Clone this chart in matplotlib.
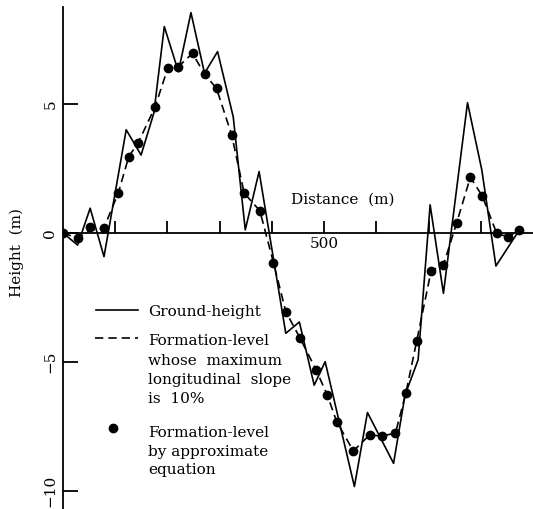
import matplotlib.pyplot as plt
from matplotlib.lines import Line2D

plt.rcParams['font.family'] = ['DejaVu Serif']

# ground profile (m)
ground_x = [0, 28, 52, 78.5, 121, 149.5, 174, 194, 221, 245, 271, 296, 326, 349, 375.5,
            426.6, 452.6, 481, 502, 558, 583, 633, 655, 680, 703, 728.5, 774.6, 802, 829, 874]
ground_h = [0, -0.47, 0.96, -0.92, 4.0, 3.02, 4.65, 8.0, 6.25, 8.54, 6.19, 7.03, 4.5, 0.12, 2.38,
            -3.89, -3.45, -5.9, -4.99, -9.83, -6.96, -8.93, -6.28, -4.92, 1.09, -2.34, 5.05, 2.44, -1.28, 0.12]

# formation-level, max slope 10% (dashed)
formation_x = [0, 28, 52, 78.5, 106, 126, 144, 176, 200.5, 221, 248, 271, 294, 323, 347, 377,
               403, 426.6, 454, 484.7, 506, 524, 556, 587, 611, 636.6, 656.5, 677.5, 705, 728.5,
               754, 780, 803, 831, 853, 874]
formation_h = [0, -0.2, 0.1, 0.2, 1.56, 2.96, 3.5, 4.87, 6.38, 6.45, 6.96, 6.16, 5.6, 3.8, 1.54, 0.86,
               -1.15, -3.05, -4.08, -5.31, -6.28, -7.31, -8.45, -7.83, -7.87, -7.76, -6.21, -4.17,
               -1.46, -1.24, 0.4, 2.16, 1.43, -0.04, -0.14, 0.12]

# formation-level by approximate equation (dots)
approx_x = [0, 28, 52, 78.5, 106, 126, 144, 176, 200.5, 221, 248, 271, 294, 323, 347, 377,
            403, 426.6, 454, 484.7, 506, 524, 556, 587, 611, 636.6, 656.5, 677.5, 705, 728.5,
            754, 780, 803, 831, 853, 874]
approx_h = [0, -0.2, 0.25, 0.2, 1.56, 2.96, 3.5, 4.87, 6.38, 6.45, 6.96, 6.16, 5.6, 3.8, 1.54, 0.86,
            -1.15, -3.05, -4.08, -5.31, -6.28, -7.31, -8.45, -7.83, -7.87, -7.76, -6.21, -4.17,
            -1.46, -1.24, 0.4, 2.16, 1.43, -0.01, -0.14, 0.12]

x_ticks = [100, 200, 300, 400, 500, 600, 700, 800]
x_tick_labels = ['', '', '', '', '500', '', '', '']
y_ticks = [-10, -5, 0, 5]
y_tick_labels = ['\u221210', '\u22125', '0', '5']

W, H = 533, 509
fig = plt.figure(figsize=(W / 100, H / 100), dpi=100)
ax = fig.add_axes([63 / W, 0, 1 - 63 / W, 1])
ax.set_xlim(0, 900)
ax.set_ylim(-10.70, 9.03)

ax.plot(ground_x, ground_h, color='black', lw=1.2)
ax.plot(formation_x, formation_h, color='black', lw=1.2, dashes=(5, 3))
ax.plot(approx_x, approx_h, 'o', color='black', ms=6)

for s in ['top', 'right']:
    ax.spines[s].set_visible(False)
ax.spines['bottom'].set_position(('data', 0))
ax.spines['left'].set_bounds(-10.7, 8.76)
for s in ['bottom', 'left']:
    ax.spines[s].set_linewidth(1.3)

ax.set_xticks(x_ticks)
ax.set_xticklabels(x_tick_labels)
ax.set_yticks(y_ticks)
ax.set_yticklabels(y_tick_labels)
ax.tick_params(axis='x', direction='in', length=9, width=1.3, pad=3, labelsize=11)
ax.tick_params(axis='y', direction='in', length=11, width=1.3, pad=4, labelsize=11,
               labelrotation=90)
for lab in ax.get_yticklabels():
    lab.set_va('center')

# axis titles
fig.text(291 / W, 1 - 204 / H, 'Distance  (m)', fontsize=11, ha='left', va='baseline')
fig.text(17 / W, 1 - 253 / H, 'Height  (m)', fontsize=11, rotation=90, ha='center', va='center')

# hand-made legend
def fy(py):
    return 1 - py / H

fig.add_artist(Line2D([96 / W, 138 / W], [fy(310), fy(310)], color='black', lw=1.2))
fig.add_artist(Line2D([95 / W, 138 / W], [fy(338), fy(338)], color='black', lw=1.2,
                      dashes=(5, 3)))
fig.add_artist(Line2D([113 / W], [fy(428)], marker='o', color='black', ms=6, ls='none'))

legend_rows = [
    (316, 'Ground-height'),
    (345, 'Formation-level'),
    (365, 'whose  maximum'),
    (384, 'longitudinal  slope'),
    (403, 'is  10%'),
    (437, 'Formation-level'),
    (456, 'by approximate'),
    (474, 'equation'),
]
for py, txt in legend_rows:
    fig.text(148 / W, fy(py), txt, fontsize=11, ha='left', va='baseline')

fig.savefig('out.png', dpi=100)
